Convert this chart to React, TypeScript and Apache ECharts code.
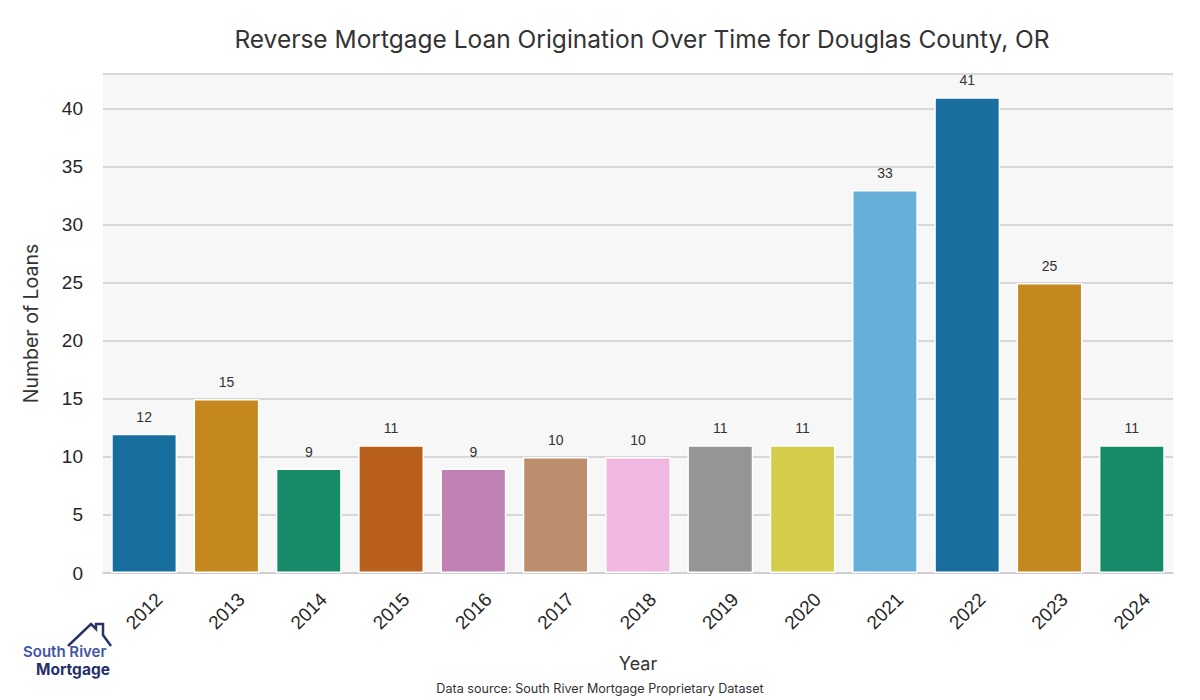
import React, { useEffect, useRef } from "react";
import * as echarts from "echarts";

const years = ["2012", "2013", "2014", "2015", "2016", "2017", "2018", "2019", "2020", "2021", "2022", "2023", "2024"];
const loans = [12, 15, 9, 11, 9, 10, 10, 11, 11, 33, 41, 25, 11];
const barColors = [
  "#186e9e", "#c4881f", "#168a69", "#b9601d", "#c081b3", "#bb8f6d", "#f0b8e0",
  "#959595", "#d5cc4c", "#66afd9", "#186e9e", "#c4881f", "#168a69",
];
const yTicks = [0, 5, 10, 15, 20, 25, 30, 35, 40];

export default function App() {
  const ref = useRef<HTMLDivElement>(null);
  useEffect(() => {
    if (!ref.current) return;
    const chart = echarts.init(ref.current, null, { renderer: "svg" });
    chart.setOption({
      animation: false,
      backgroundColor: "#ffffff",
      title: {
        text: "Reverse Mortgage Loan Origination Over Time for Douglas County, OR",
        left: 637,
        textAlign: "center",
        top: 21,
        textStyle: { fontFamily: "Inter", fontSize: 24.5, fontWeight: "normal", color: "#333333" },
      },
      grid: { left: 103, right: 27, top: 74, bottom: 127, containLabel: false, show: true, backgroundColor: "#f7f7f7", borderWidth: 0 },
      xAxis: {
        type: "category",
        data: years,
        axisLine: { show: true, lineStyle: { color: "#cccccc", width: 1.5 } },
        axisTick: { show: false },
        axisLabel: {
          rotate: 45,
          align: "center",
          verticalAlign: "middle",
          fontFamily: "Liberation Sans, Arial",
          fontSize: 19,
          color: "#262626",
          margin: 38,
        },
        name: "Year",
        nameLocation: "middle",
        nameGap: 81,
        nameTextStyle: { fontFamily: "Inter", fontSize: 18, color: "#333333" },
      },
      yAxis: {
        type: "value",
        min: 0,
        max: 43,
        interval: 5,
        axisLine: { show: false },
        axisTick: { show: false },
        splitLine: { show: true, lineStyle: { color: "#cccccc", width: 1.5 } },
        axisLabel: {
          fontFamily: "Liberation Sans, Arial",
          fontSize: 19,
          color: "#262626",
          margin: 20,
          formatter: (v: number) => (yTicks.includes(v) ? String(v) : ""),
        },
        name: "Number of Loans",
        nameLocation: "middle",
        nameGap: 62,
        nameTextStyle: { fontFamily: "Inter", fontSize: 19.5, color: "#333333" },
      },
      series: [
        {
          type: "bar",
          data: loans.map((v, i) => ({ value: v, itemStyle: { color: barColors[i] } })),
          barCategoryGap: "20%",
          itemStyle: { borderColor: "#ffffff", borderWidth: 1.5 },
          label: {
            show: true,
            position: "top",
            distance: 10,
            fontFamily: "Liberation Sans, Arial",
            fontSize: 14,
            color: "#333333",
          },
        },
      ],
      graphic: [
        {
          type: "text",
          left: "center",
          top: 682,
          style: {
            text: "Data source: South River Mortgage Proprietary Dataset",
            fontFamily: "Inter",
            fontSize: 12.6,
            fill: "#333333",
          },
        },
        {
          type: "polyline",
          shape: {
            points: [[68, 646], [91, 624], [96, 629], [96, 624], [103, 624], [103, 635], [111, 646]],
          },
          style: { stroke: "#2a3466", lineWidth: 2.5, fill: "none" },
        },
        {
          type: "text",
          x: 23,
          y: 644,
          style: { text: "South River", fontFamily: "Inter", fontSize: 15, fontWeight: 600, fill: "#3f55a5" },
        },
        {
          type: "text",
          x: 36,
          y: 661,
          style: { text: "Mortgage", fontFamily: "Inter", fontSize: 15.5, fontWeight: 700, fill: "#24306a" },
        },
      ],
    });
    return () => chart.dispose();
  }, []);
  return <div ref={ref} style={{ width: 1200, height: 700, position: "absolute", left: 0, top: 0 }} />;
}
